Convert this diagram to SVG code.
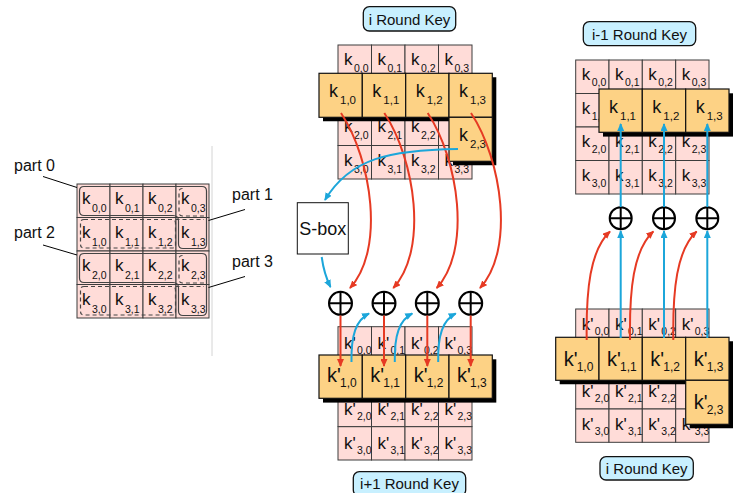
<svg xmlns="http://www.w3.org/2000/svg" width="745" height="493" viewBox="0 0 745 493">
<style>
.pk{fill:#ffdcd8;stroke:#3c3c3c;stroke-width:1}
.or{fill:#fdd285;stroke:#111;stroke-width:1.2}
.sh{fill:#000}
text{font-family:"Liberation Sans",Arial,sans-serif;fill:#111}
.kp{font-size:17px}
.sp{font-size:10.5px}
.ko{font-size:18px}
.so{font-size:11.5px}
.kb{font-size:20px}
.sb{font-size:12px}
.lbl{font-size:15px;text-anchor:middle}
.rk{fill:#c8f0ff;stroke:#111;stroke-width:1.3}
.red{fill:none;stroke:#e63a23;stroke-width:2;marker-end:url(#ar)}
.blu{fill:none;stroke:#1ca6da;stroke-width:2;marker-end:url(#ab)}
.xc{fill:#fff;stroke:#000;stroke-width:2}
.xl{stroke:#000;stroke-width:2}
.ol{fill:none;stroke:#444;stroke-width:1.2}
.od{fill:none;stroke:#444;stroke-width:1.2;stroke-dasharray:4 3}
.ld{stroke:#000;stroke-width:1}
</style>
<defs>
<marker id="ar" markerUnits="userSpaceOnUse" markerWidth="8" markerHeight="7" refX="7" refY="3.5" orient="auto"><path d="M0,0 L8,3.5 L0,7 z" fill="#e63a23"/></marker>
<marker id="ab" markerUnits="userSpaceOnUse" markerWidth="8" markerHeight="7" refX="7" refY="3.5" orient="auto"><path d="M0,0 L8,3.5 L0,7 z" fill="#1ca6da"/></marker>
</defs>
<rect width="745" height="493" fill="#fff"/>
<line x1="212" y1="146" x2="212" y2="356" stroke="#d4d4d4" stroke-width="1"/>

<g id="left-grid">
<rect class="pk" x="77" y="184" width="33" height="33.5"/><rect class="pk" x="110" y="184" width="33" height="33.5"/><rect class="pk" x="143" y="184" width="33" height="33.5"/><rect class="pk" x="176" y="184" width="33" height="33.5"/>
<rect class="pk" x="77" y="217.5" width="33" height="33.5"/><rect class="pk" x="110" y="217.5" width="33" height="33.5"/><rect class="pk" x="143" y="217.5" width="33" height="33.5"/><rect class="pk" x="176" y="217.5" width="33" height="33.5"/>
<rect class="pk" x="77" y="251" width="33" height="33.5"/><rect class="pk" x="110" y="251" width="33" height="33.5"/><rect class="pk" x="143" y="251" width="33" height="33.5"/><rect class="pk" x="176" y="251" width="33" height="33.5"/>
<rect class="pk" x="77" y="284.5" width="33" height="33.5"/><rect class="pk" x="110" y="284.5" width="33" height="33.5"/><rect class="pk" x="143" y="284.5" width="33" height="33.5"/><rect class="pk" x="176" y="284.5" width="33" height="33.5"/>
<text class="kp" x="82" y="204">k</text><text class="sp" x="92" y="212">0,0</text>
<text class="kp" x="115" y="204">k</text><text class="sp" x="125" y="212">0,1</text>
<text class="kp" x="148" y="204">k</text><text class="sp" x="158" y="212">0,2</text>
<text class="kp" x="181" y="204">k</text><text class="sp" x="191" y="212">0,3</text>
<text class="kp" x="82" y="237.5">k</text><text class="sp" x="92" y="245.5">1,0</text>
<text class="kp" x="115" y="237.5">k</text><text class="sp" x="125" y="245.5">1,1</text>
<text class="kp" x="148" y="237.5">k</text><text class="sp" x="158" y="245.5">1,2</text>
<text class="kp" x="181" y="237.5">k</text><text class="sp" x="191" y="245.5">1,3</text>
<text class="kp" x="82" y="271">k</text><text class="sp" x="92" y="279">2,0</text>
<text class="kp" x="115" y="271">k</text><text class="sp" x="125" y="279">2,1</text>
<text class="kp" x="148" y="271">k</text><text class="sp" x="158" y="279">2,2</text>
<text class="kp" x="181" y="271">k</text><text class="sp" x="191" y="279">2,3</text>
<text class="kp" x="82" y="304.5">k</text><text class="sp" x="92" y="312.5">3,0</text>
<text class="kp" x="115" y="304.5">k</text><text class="sp" x="125" y="312.5">3,1</text>
<text class="kp" x="148" y="304.5">k</text><text class="sp" x="158" y="312.5">3,2</text>
<text class="kp" x="181" y="304.5">k</text><text class="sp" x="191" y="312.5">3,3</text>
</g>
<g id="part-outlines">
<path class="ol" d="M79.5,191 Q79.5,186.5 84,186.5 H202 Q206.5,186.5 206.5,191 V244 Q206.5,248.5 202,248.5 H183 Q178.5,248.5 178.5,244 V221 Q178.5,215.5 173,215.5 H84 Q79.5,215.5 79.5,211 Z"/>
<path class="od" d="M84,219.5 H172 Q175.5,219.5 175.5,223 V244.5 Q175.5,248 172,248 H84 Q80.5,248 80.5,244.5 V223 Q80.5,219.5 84,219.5 Z M175.5,219.5 H204 M182.5,188.5 Q179,188.5 179,192 V212.5 Q179,216 182.5,216 H204"/>
<path class="ol" d="M79.5,258 Q79.5,253.5 84,253.5 H202 Q206.5,253.5 206.5,258 V311 Q206.5,315.5 202,315.5 H183 Q178.5,315.5 178.5,311 V288 Q178.5,282.5 173,282.5 H84 Q79.5,282.5 79.5,278 Z"/>
<path class="od" d="M84,286.5 H172 Q175.5,286.5 175.5,290 V311.5 Q175.5,315 172,315 H84 Q80.5,315 80.5,311.5 V290 Q80.5,286.5 84,286.5 Z M175.5,286.5 H204 M182.5,255.5 Q179,255.5 179,259 V279.5 Q179,283 182.5,283 H204"/>
</g>
<g id="part-labels">
<text x="14" y="171" style="font-size:16px">part 0</text>
<text x="14" y="238" style="font-size:16px">part 2</text>
<text x="232" y="200" style="font-size:16px">part 1</text>
<text x="232" y="267" style="font-size:16px">part 3</text>
<line class="ld" x1="43" y1="176.5" x2="77" y2="187.5"/>
<line class="ld" x1="43" y1="245" x2="77" y2="255"/>
<line class="ld" x1="245" y1="209.5" x2="208.5" y2="220.5"/>
<line class="ld" x1="245" y1="276.5" x2="208.5" y2="287.5"/>
</g>

<g id="key-i-top">
<rect class="rk" x="363.3" y="6.7" width="92.4" height="24.3" rx="6"/>
<text class="lbl" x="409.5" y="24.5">i Round Key</text>
</g>
<g id="grid-i">
<rect class="pk" x="338" y="45" width="33.5" height="33.5"/><rect class="pk" x="371.5" y="45" width="33.5" height="33.5"/><rect class="pk" x="405" y="45" width="33.5" height="33.5"/><rect class="pk" x="438.5" y="45" width="33.5" height="33.5"/>
<rect class="pk" x="338" y="78.5" width="33.5" height="33.5"/><rect class="pk" x="371.5" y="78.5" width="33.5" height="33.5"/><rect class="pk" x="405" y="78.5" width="33.5" height="33.5"/><rect class="pk" x="438.5" y="78.5" width="33.5" height="33.5"/>
<rect class="pk" x="338" y="112" width="33.5" height="33.5"/><rect class="pk" x="371.5" y="112" width="33.5" height="33.5"/><rect class="pk" x="405" y="112" width="33.5" height="33.5"/><rect class="pk" x="438.5" y="112" width="33.5" height="33.5"/>
<rect class="pk" x="338" y="145.5" width="33.5" height="33.5"/><rect class="pk" x="371.5" y="145.5" width="33.5" height="33.5"/><rect class="pk" x="405" y="145.5" width="33.5" height="33.5"/><rect class="pk" x="438.5" y="145.5" width="33.5" height="33.5"/>
<text class="kp" x="344" y="65">k</text><text class="sp" x="354" y="72">0,0</text>
<text class="kp" x="377.5" y="65">k</text><text class="sp" x="387.5" y="72">0,1</text>
<text class="kp" x="411" y="65">k</text><text class="sp" x="421" y="72">0,2</text>
<text class="kp" x="444.5" y="65">k</text><text class="sp" x="454.5" y="72">0,3</text>
<text class="kp" x="344" y="132">k</text><text class="sp" x="354" y="139">2,0</text>
<text class="kp" x="377.5" y="132">k</text><text class="sp" x="387.5" y="139">2,1</text>
<text class="kp" x="411" y="132">k</text><text class="sp" x="421" y="139">2,2</text>
<text class="kp" x="344" y="165.5">k</text><text class="sp" x="354" y="172.5">3,0</text>
<text class="kp" x="377.5" y="165.5">k</text><text class="sp" x="387.5" y="172.5">3,1</text>
<text class="kp" x="411" y="165.5">k</text><text class="sp" x="421" y="172.5">3,2</text>
<text class="kp" x="444.5" y="165.5">k</text><text class="sp" x="454.5" y="172.5">3,3</text>
</g>
<g id="row-i">
<polygon class="sh" points="323,77.3 496.3,77.3 496.3,165.3 453,165.3 453,121.3 323,121.3"/>
<rect class="or" x="319" y="73.3" width="43.3" height="44"/><rect class="or" x="362.3" y="73.3" width="43.3" height="44"/><rect class="or" x="405.7" y="73.3" width="43.3" height="44"/><rect class="or" x="449" y="73.3" width="43.3" height="44"/>
<rect class="or" x="449" y="117.3" width="43.3" height="44"/>
<text class="ko" x="329" y="97.3">k</text><text class="so" x="340" y="104.3">1,0</text>
<text class="ko" x="372.3" y="97.3">k</text><text class="so" x="383.3" y="104.3">1,1</text>
<text class="ko" x="415.7" y="97.3">k</text><text class="so" x="426.7" y="104.3">1,2</text>
<text class="ko" x="459" y="97.3">k</text><text class="so" x="470" y="104.3">1,3</text>
<text class="ko" x="459" y="141.3">k</text><text class="so" x="470" y="148.3">2,3</text>
</g>
<g id="sbox">
<rect x="297.3" y="202.7" width="51" height="51.3" fill="#fff" stroke="#111" stroke-width="1"/>
<text x="322.8" y="235" style="font-size:18px;text-anchor:middle">S-box</text>
</g>

<g id="grid-i1">
<rect class="pk" x="338" y="326.7" width="33.5" height="33.3"/><rect class="pk" x="371.5" y="326.7" width="33.5" height="33.3"/><rect class="pk" x="405" y="326.7" width="33.5" height="33.3"/><rect class="pk" x="438.5" y="326.7" width="33.5" height="33.3"/>
<rect class="pk" x="338" y="393.3" width="33.5" height="33.3"/><rect class="pk" x="371.5" y="393.3" width="33.5" height="33.3"/><rect class="pk" x="405" y="393.3" width="33.5" height="33.3"/><rect class="pk" x="438.5" y="393.3" width="33.5" height="33.3"/>
<rect class="pk" x="338" y="426.7" width="33.5" height="33.3"/><rect class="pk" x="371.5" y="426.7" width="33.5" height="33.3"/><rect class="pk" x="405" y="426.7" width="33.5" height="33.3"/><rect class="pk" x="438.5" y="426.7" width="33.5" height="33.3"/>
<text class="kp" x="344" y="348.7">k'</text><text class="sp" x="357" y="353.7">0,0</text>
<text class="kp" x="377.5" y="348.7">k'</text><text class="sp" x="390.5" y="353.7">0,1</text>
<text class="kp" x="411" y="348.7">k'</text><text class="sp" x="424" y="353.7">0,2</text>
<text class="kp" x="444.5" y="348.7">k'</text><text class="sp" x="457.5" y="353.7">0,3</text>
<text class="kp" x="344" y="415.3">k'</text><text class="sp" x="357" y="420.3">2,0</text>
<text class="kp" x="377.5" y="415.3">k'</text><text class="sp" x="390.5" y="420.3">2,1</text>
<text class="kp" x="411" y="415.3">k'</text><text class="sp" x="424" y="420.3">2,2</text>
<text class="kp" x="444.5" y="415.3">k'</text><text class="sp" x="457.5" y="420.3">2,3</text>
<text class="kp" x="344" y="448.7">k'</text><text class="sp" x="357" y="453.7">3,0</text>
<text class="kp" x="377.5" y="448.7">k'</text><text class="sp" x="390.5" y="453.7">3,1</text>
<text class="kp" x="411" y="448.7">k'</text><text class="sp" x="424" y="453.7">3,2</text>
<text class="kp" x="444.5" y="448.7">k'</text><text class="sp" x="457.5" y="453.7">3,3</text>
</g>
<g id="row-i1">
<rect class="sh" x="323" y="359.3" width="173.3" height="43.3"/>
<rect class="or" x="319" y="355" width="43.3" height="43.3"/><rect class="or" x="362.3" y="355" width="43.3" height="43.3"/><rect class="or" x="405.7" y="355" width="43.3" height="43.3"/><rect class="or" x="449" y="355" width="43.3" height="43.3"/>
<text class="kb" x="327" y="382">k'</text><text class="sb" x="340" y="387">1,0</text>
<text class="kb" x="370.3" y="382">k'</text><text class="sb" x="383.3" y="387">1,1</text>
<text class="kb" x="413.7" y="382">k'</text><text class="sb" x="426.7" y="387">1,2</text>
<text class="kb" x="457" y="382">k'</text><text class="sb" x="470" y="387">1,3</text>
</g>
<g id="key-i1">
<rect class="rk" x="353.3" y="471.7" width="112.4" height="24.3" rx="6"/>
<text class="lbl" x="409.5" y="489">i+1 Round Key</text>
</g>

<g id="key-im1">
<rect class="rk" x="583.3" y="21.7" width="112.4" height="24" rx="6"/>
<text class="lbl" x="639.5" y="39.5">i-1 Round Key</text>
</g>
<g id="grid-im1">
<rect class="pk" x="575.7" y="60" width="33.3" height="33.5"/><rect class="pk" x="609" y="60" width="33.3" height="33.5"/><rect class="pk" x="642.3" y="60" width="33.3" height="33.5"/><rect class="pk" x="675.7" y="60" width="33.3" height="33.5"/>
<rect class="pk" x="575.7" y="93.5" width="33.3" height="33.5"/><rect class="pk" x="609" y="93.5" width="33.3" height="33.5"/><rect class="pk" x="642.3" y="93.5" width="33.3" height="33.5"/><rect class="pk" x="675.7" y="93.5" width="33.3" height="33.5"/>
<rect class="pk" x="575.7" y="127" width="33.3" height="33.5"/><rect class="pk" x="609" y="127" width="33.3" height="33.5"/><rect class="pk" x="642.3" y="127" width="33.3" height="33.5"/><rect class="pk" x="675.7" y="127" width="33.3" height="33.5"/>
<rect class="pk" x="575.7" y="160.5" width="33.3" height="33.5"/><rect class="pk" x="609" y="160.5" width="33.3" height="33.5"/><rect class="pk" x="642.3" y="160.5" width="33.3" height="33.5"/><rect class="pk" x="675.7" y="160.5" width="33.3" height="33.5"/>
<text class="kp" x="581.7" y="80">k</text><text class="sp" x="591.7" y="86">0,0</text>
<text class="kp" x="615" y="80">k</text><text class="sp" x="625" y="86">0,1</text>
<text class="kp" x="648.3" y="80">k</text><text class="sp" x="658.3" y="86">0,2</text>
<text class="kp" x="681.7" y="80">k</text><text class="sp" x="691.7" y="86">0,3</text>
<text class="kp" x="581.7" y="113.5">k</text><text class="sp" x="591.7" y="119.5">1,0</text>
<text class="kp" x="581.7" y="147">k</text><text class="sp" x="591.7" y="153">2,0</text>
<text class="kp" x="615" y="147">k</text><text class="sp" x="625" y="153">2,1</text>
<text class="kp" x="648.3" y="147">k</text><text class="sp" x="658.3" y="153">2,2</text>
<text class="kp" x="681.7" y="147">k</text><text class="sp" x="691.7" y="153">2,3</text>
<text class="kp" x="581.7" y="180.5">k</text><text class="sp" x="591.7" y="186.5">3,0</text>
<text class="kp" x="615" y="180.5">k</text><text class="sp" x="625" y="186.5">3,1</text>
<text class="kp" x="648.3" y="180.5">k</text><text class="sp" x="658.3" y="186.5">3,2</text>
<text class="kp" x="681.7" y="180.5">k</text><text class="sp" x="691.7" y="186.5">3,3</text>
</g>
<g id="row-im1">
<rect class="sh" x="603" y="93.3" width="130" height="43.3"/>
<rect class="or" x="599" y="89" width="43.3" height="43.3"/><rect class="or" x="642.3" y="89" width="43.3" height="43.3"/><rect class="or" x="685.7" y="89" width="43.3" height="43.3"/>
<text class="ko" x="609" y="113.3">k</text><text class="so" x="620" y="120.3">1,1</text>
<text class="ko" x="652.3" y="113.3">k</text><text class="so" x="663.3" y="120.3">1,2</text>
<text class="ko" x="695.7" y="113.3">k</text><text class="so" x="706.7" y="120.3">1,3</text>
</g>

<g id="grid-i-right">
<rect class="pk" x="575.7" y="309" width="33.3" height="33.3"/><rect class="pk" x="609" y="309" width="33.3" height="33.3"/><rect class="pk" x="642.3" y="309" width="33.3" height="33.3"/><rect class="pk" x="675.7" y="309" width="33.3" height="33.3"/>
<rect class="pk" x="575.7" y="375.7" width="33.3" height="33.3"/><rect class="pk" x="609" y="375.7" width="33.3" height="33.3"/><rect class="pk" x="642.3" y="375.7" width="33.3" height="33.3"/><rect class="pk" x="675.7" y="375.7" width="33.3" height="33.3"/>
<rect class="pk" x="575.7" y="409" width="33.3" height="33.3"/><rect class="pk" x="609" y="409" width="33.3" height="33.3"/><rect class="pk" x="642.3" y="409" width="33.3" height="33.3"/><rect class="pk" x="675.7" y="409" width="33.3" height="33.3"/>
<text class="kp" x="581.7" y="330">k'</text><text class="sp" x="594.7" y="335">0,0</text>
<text class="kp" x="615" y="330">k'</text><text class="sp" x="628" y="335">0,1</text>
<text class="kp" x="648.3" y="330">k'</text><text class="sp" x="661.3" y="335">0,2</text>
<text class="kp" x="681.7" y="330">k'</text><text class="sp" x="694.7" y="335">0,3</text>
<text class="kp" x="581.7" y="396.7">k'</text><text class="sp" x="594.7" y="401.7">2,0</text>
<text class="kp" x="615" y="396.7">k'</text><text class="sp" x="628" y="401.7">2,1</text>
<text class="kp" x="648.3" y="396.7">k'</text><text class="sp" x="661.3" y="401.7">2,2</text>
<text class="kp" x="581.7" y="430">k'</text><text class="sp" x="594.7" y="435">3,0</text>
<text class="kp" x="615" y="430">k'</text><text class="sp" x="628" y="435">3,1</text>
<text class="kp" x="648.3" y="430">k'</text><text class="sp" x="661.3" y="435">3,2</text>
<text class="kp" x="681.7" y="430">k'</text><text class="sp" x="694.7" y="435">3,3</text>
</g>
<g id="row-i-right">
<polygon class="sh" points="559.7,341.3 733,341.3 733,428.3 689.7,428.3 689.7,384.3 559.7,384.3"/>
<rect class="or" x="555.7" y="337.3" width="43.3" height="43"/><rect class="or" x="599" y="337.3" width="43.3" height="43"/><rect class="or" x="642.3" y="337.3" width="43.3" height="43"/><rect class="or" x="685.7" y="337.3" width="43.3" height="43"/>
<rect class="or" x="685.7" y="380.3" width="43.3" height="44"/>
<text class="kb" x="563.7" y="366">k'</text><text class="sb" x="576.7" y="371">1,0</text>
<text class="kb" x="607" y="366">k'</text><text class="sb" x="620" y="371">1,1</text>
<text class="kb" x="650.3" y="366">k'</text><text class="sb" x="663.3" y="371">1,2</text>
<text class="kb" x="693.7" y="366">k'</text><text class="sb" x="706.7" y="371">1,3</text>
<text class="kb" x="693.7" y="409">k'</text><text class="sb" x="706.7" y="414">2,3</text>
</g>
<g id="key-i-bottom">
<rect class="rk" x="600" y="456.7" width="93.3" height="23.3" rx="6"/>
<text class="lbl" x="646.7" y="474">i Round Key</text>
</g>

<g id="xors">
<circle class="xc" cx="340.5" cy="303.3" r="11.5"/><path class="xl" d="M329,303.3 H352 M340.5,291.8 V314.8"/>
<circle class="xc" cx="384" cy="303.3" r="11.5"/><path class="xl" d="M372.5,303.3 H395.5 M384,291.8 V314.8"/>
<circle class="xc" cx="427.3" cy="303.3" r="11.5"/><path class="xl" d="M415.8,303.3 H438.8 M427.3,291.8 V314.8"/>
<circle class="xc" cx="470.7" cy="303.3" r="11.5"/><path class="xl" d="M459.2,303.3 H482.2 M470.7,291.8 V314.8"/>
<circle class="xc" cx="620.7" cy="218.3" r="11"/><path class="xl" d="M609.7,218.3 H631.7 M620.7,207.3 V229.3"/>
<circle class="xc" cx="664" cy="218.3" r="11"/><path class="xl" d="M653,218.3 H675 M664,207.3 V229.3"/>
<circle class="xc" cx="707.3" cy="218.3" r="11"/><path class="xl" d="M696.3,218.3 H718.3 M707.3,207.3 V229.3"/>
</g>

<g id="connectors">
<path class="red" d="M341,113 C372,160 385,250 350,288"/>
<path class="red" d="M384.3,113 C415.3,160 428.3,250 393.3,288"/>
<path class="red" d="M427.7,113 C458.7,160 471.7,250 436.7,288"/>
<path class="red" d="M471,113 C502,160 515,250 480,288"/>
<path class="red" d="M340.5,315.5 V366"/>
<path class="red" d="M384,315.5 V366"/>
<path class="red" d="M427.3,315.5 V366"/>
<path class="red" d="M470.7,315.5 V366"/>
<path class="blu" d="M458,149 C390,150 350,158 325,200"/>
<path class="blu" d="M321.7,257 Q324,274 330.5,287"/>
<path class="blu" d="M351.5,362 C351,335 356,320 369,313.5"/>
<path class="blu" d="M394.8,362 C394.3,335 399.3,320 412.3,313.5"/>
<path class="blu" d="M438.2,362 C437.7,335 442.7,320 455.7,313.5"/>
<path class="blu" d="M620.7,338 V231"/>
<path class="blu" d="M664,338 V231"/>
<path class="blu" d="M707.3,338 V231"/>
<path class="blu" d="M620.7,207 V124"/>
<path class="blu" d="M664,207 V124"/>
<path class="blu" d="M707.3,207 V124"/>
<path class="red" d="M586.7,340 C586,290 590,250 610,231.5"/>
<path class="red" d="M630,340 C629.3,290 633.3,250 653.3,231.5"/>
<path class="red" d="M673.3,340 C672.6,290 676.6,250 696.6,231.5"/>
</g>
</svg>
